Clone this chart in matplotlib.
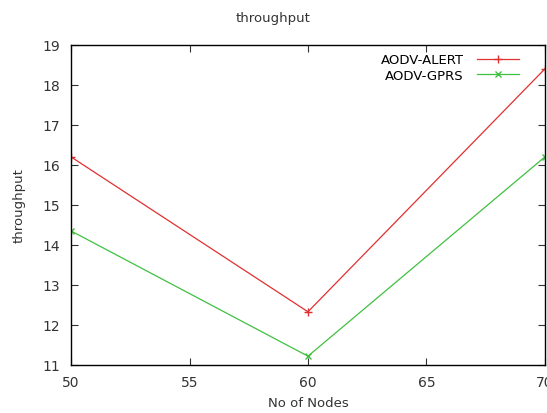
import numpy as np
import matplotlib.pyplot as plt

nodes = [50, 60, 70]
alert = [16.2, 12.33, 18.4]
gprs = [14.35, 11.22, 16.2]

fig = plt.figure(figsize=(5.47, 4.14), dpi=100)
ax = fig.add_axes([0.13, 0.116, 0.866, 0.773])

ax.plot(nodes, alert, color='#e03030', lw=0.9, marker='+', ms=6, mew=1.0, label='AODV-ALERT')
ax.plot(nodes, gprs, color='#40c040', lw=0.9, marker='x', ms=5, mew=1.0, label='AODV-GPRS')

ax.set_xlim(50, 70)
ax.set_ylim(11, 19)
ax.set_xticks([50, 55, 60, 65, 70])
ax.set_yticks(range(11, 20))
ax.tick_params(direction='in', top=True, right=True, labelsize=10, colors='#333333', length=5, pad=8)
ax.tick_params(axis='x', pad=7)
for s in ax.spines.values():
    s.set_linewidth(1.0)

ax.set_xlabel('No of Nodes', fontsize=9.5, color='#333333', labelpad=5)
ax.set_ylabel('throughput', fontsize=9.5, color='#333333', labelpad=12)
fig.text(0.5, 0.955, 'throughput', ha='center', va='center', fontsize=9.5, color='#333333')

ax.legend(loc='upper right', frameon=False, markerfirst=False, fontsize=9.5,
          handlelength=3.2, borderaxespad=0.1, labelspacing=0.2, handletextpad=1.0,
          bbox_to_anchor=(0.96, 0.995))

fig.savefig('out.png', dpi=100)
